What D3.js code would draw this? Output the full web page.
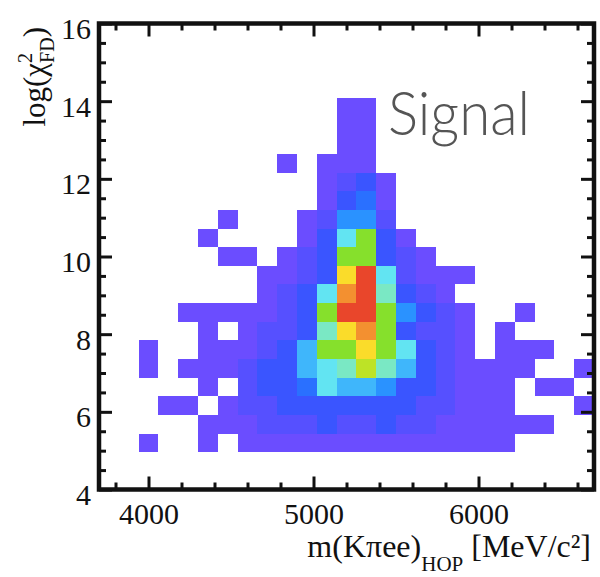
<!DOCTYPE html>
<html>
<head>
<meta charset="utf-8">
<script src="https://cdn.jsdelivr.net/npm/d3@7"></script>
<style>
  body { margin: 0; background: #fff; }
</style>
</head>
<body>
<div id="chart"></div>
<script>
// histogram binning
const xDomain = [3700, 6700];
const yDomain = [4, 16];
const nBinsX = 25;
const nBinsY = 25;

const xMajorTicks = [4000, 5000, 6000];
const yMajorTicks = [4, 6, 8, 10, 12, 14, 16];

// bin contents (colour level), one row per y bin, bottom row first, 25 x bins each
const binCounts = [
  [0,0,0,0,0,0,0,0,0,0,0,0,0,0,0,0,0,0,0,0,0,0,0,0,0],
  [0,0,0,0,0,0,0,0,0,0,0,0,0,0,0,0,0,0,0,0,0,0,0,0,0],
  [0,0,1,0,0,1,0,1,1,1,1,1,1,1,1,1,1,1,1,1,1,0,0,0,0],
  [0,0,0,0,0,1,1,1,2,2,2,3,2,2,3,2,2,1,1,1,1,1,1,0,0],
  [0,0,0,1,1,0,1,2,2,3,3,3,3,3,3,3,2,2,1,1,1,0,0,0,1],
  [0,0,0,0,0,1,0,2,3,3,4,7,6,6,5,3,3,2,1,1,1,0,1,1,0],
  [0,0,1,0,1,1,1,2,3,3,6,7,8,10,8,6,3,2,1,1,1,1,0,0,1],
  [0,0,1,0,0,1,1,1,2,3,6,9,9,11,9,7,3,2,1,0,1,1,1,0,0],
  [0,0,0,0,0,1,0,1,2,2,3,8,11,12,9,3,2,2,1,0,1,0,0,0,0],
  [0,0,0,0,1,1,1,1,1,2,3,9,13,13,9,5,3,2,1,0,0,1,0,0,0],
  [0,0,0,0,0,0,0,0,1,2,3,7,12,13,8,3,2,1,0,0,0,0,0,0,0],
  [0,0,0,0,0,0,0,0,1,1,2,3,11,13,7,2,1,1,1,0,0,0,0,0,0],
  [0,0,0,0,0,0,1,1,0,1,2,3,9,9,3,2,1,0,0,0,0,0,0,0,0],
  [0,0,0,0,0,1,0,0,0,0,1,3,7,9,3,1,0,0,0,0,0,0,0,0,0],
  [0,0,0,0,0,0,1,0,0,0,1,2,5,5,2,0,0,0,0,0,0,0,0,0,0],
  [0,0,0,0,0,0,0,0,0,0,0,1,3,4,1,0,0,0,0,0,0,0,0,0,0],
  [0,0,0,0,0,0,0,0,0,0,0,1,2,3,1,0,0,0,0,0,0,0,0,0,0],
  [0,0,0,0,0,0,0,0,0,1,0,1,1,1,0,0,0,0,0,0,0,0,0,0,0],
  [0,0,0,0,0,0,0,0,0,0,0,0,1,1,0,0,0,0,0,0,0,0,0,0,0],
  [0,0,0,0,0,0,0,0,0,0,0,0,1,1,0,0,0,0,0,0,0,0,0,0,0],
  [0,0,0,0,0,0,0,0,0,0,0,0,1,1,0,0,0,0,0,0,0,0,0,0,0],
  [0,0,0,0,0,0,0,0,0,0,0,0,0,0,0,0,0,0,0,0,0,0,0,0,0],
  [0,0,0,0,0,0,0,0,0,0,0,0,0,0,0,0,0,0,0,0,0,0,0,0,0],
  [0,0,0,0,0,0,0,0,0,0,0,0,0,0,0,0,0,0,0,0,0,0,0,0,0],
  [0,0,0,0,0,0,0,0,0,0,0,0,0,0,0,0,0,0,0,0,0,0,0,0,0]
];

// ROOT-like rainbow palette, violet -> red
const palette = ["#6b4dff", "#5650ff", "#3a55ff", "#2a70ff", "#2a92ff", "#3fb6fb",
  "#62e4f2", "#7ae8c4", "#86e02c", "#bde326", "#fadc2a", "#f39030", "#e9462b"];

const width = 600;
const height = 577;
const plotLeft = 99, plotRight = 594, plotTop = 23.5, plotBottom = 489.5;

const svg = d3.select("#chart")
  .append("svg")
  .attr("width", width)
  .attr("height", height);

const x = d3.scaleLinear().domain(xDomain).range([plotLeft, plotRight]);
const y = d3.scaleLinear().domain(yDomain).range([plotBottom, plotTop]);

const color = d3.scaleLinear()
  .domain(d3.range(1, palette.length + 1))
  .range(palette);

const binW = (xDomain[1] - xDomain[0]) / nBinsX;
const binH = (yDomain[1] - yDomain[0]) / nBinsY;

const cells = [];
binCounts.forEach((row, j) => {
  row.forEach((v, i) => {
    if (v > 0) cells.push({ i: i, j: j, v: v });
  });
});

svg.append("g")
  .selectAll("rect")
  .data(cells)
  .enter()
  .append("rect")
  .attr("x", d => x(xDomain[0] + d.i * binW))
  .attr("y", d => y(yDomain[0] + (d.j + 1) * binH))
  .attr("width", d => x(xDomain[0] + (d.i + 1) * binW) - x(xDomain[0] + d.i * binW))
  .attr("height", d => y(yDomain[0] + d.j * binH) - y(yDomain[0] + (d.j + 1) * binH))
  .attr("fill", d => color(d.v))
  .attr("shape-rendering", "crispEdges");

// axes, ticks pointing inward on all four sides
const xMinor = d3.range(3800, 6601, 200).filter(v => !xMajorTicks.includes(v));
const yMinor = d3.range(4, 16.01, 0.5).filter(v => !yMajorTicks.includes(v));

function styleAxis(g) {
  g.select(".domain").remove();
  g.selectAll(".tick line").attr("stroke", "#111").attr("stroke-width", 3);
  g.selectAll(".tick text")
    .attr("fill", "#111")
    .style("font-family", "'Liberation Serif', 'DejaVu Serif', serif")
    .style("font-size", "30px");
}

svg.append("g")
  .attr("transform", `translate(0,${plotBottom})`)
  .call(d3.axisBottom(x).tickValues(xMajorTicks).tickSize(-13).tickPadding(13).tickFormat(d3.format("d")))
  .call(styleAxis);
svg.append("g")
  .attr("transform", `translate(0,${plotBottom})`)
  .call(d3.axisBottom(x).tickValues(xMinor).tickSize(-7).tickFormat(""))
  .call(styleAxis);
svg.append("g")
  .attr("transform", `translate(0,${plotTop})`)
  .call(d3.axisTop(x).tickValues(xMajorTicks).tickSize(-13).tickFormat(""))
  .call(styleAxis);
svg.append("g")
  .attr("transform", `translate(0,${plotTop})`)
  .call(d3.axisTop(x).tickValues(xMinor).tickSize(-7).tickFormat(""))
  .call(styleAxis);

svg.append("g")
  .attr("transform", `translate(${plotLeft},0)`)
  .call(d3.axisLeft(y).tickValues(yMajorTicks).tickSize(-13).tickPadding(8).tickFormat(d3.format("d")))
  .call(styleAxis)
  .selectAll(".tick text").attr("dy", "0.5em");
svg.append("g")
  .attr("transform", `translate(${plotLeft},0)`)
  .call(d3.axisLeft(y).tickValues(yMinor).tickSize(-7).tickFormat(""))
  .call(styleAxis);
svg.append("g")
  .attr("transform", `translate(${plotRight},0)`)
  .call(d3.axisRight(y).tickValues(yMajorTicks).tickSize(-13).tickFormat(""))
  .call(styleAxis);
svg.append("g")
  .attr("transform", `translate(${plotRight},0)`)
  .call(d3.axisRight(y).tickValues(yMinor).tickSize(-7).tickFormat(""))
  .call(styleAxis);

// frame
svg.append("rect")
  .attr("x", plotLeft)
  .attr("y", plotTop)
  .attr("width", plotRight - plotLeft)
  .attr("height", plotBottom - plotTop)
  .attr("fill", "none")
  .attr("stroke", "#111")
  .attr("stroke-width", 4.5);

// axis titles
const xTitle = svg.append("text")
  .attr("x", 591)
  .attr("y", 557)
  .attr("text-anchor", "end")
  .attr("fill", "#111")
  .style("font-family", "'Liberation Serif', 'DejaVu Serif', serif")
  .style("font-size", "32px");
xTitle.append("tspan").text("m(K\u03c0ee)");
xTitle.append("tspan").attr("dy", 14).style("font-size", "21px").text("HOP");
xTitle.append("tspan").attr("dy", -14).text(" [MeV/c\u00b2]");

const yTitle = svg.append("text")
  .attr("transform", "translate(45,27) rotate(-90)")
  .attr("text-anchor", "end")
  .attr("fill", "#111")
  .style("font-family", "'Liberation Serif', 'DejaVu Serif', serif")
  .style("font-size", "31px");
yTitle.append("tspan").text("log(\u03c7");
yTitle.append("tspan").attr("dy", -13).style("font-size", "20px").text("2");
yTitle.append("tspan").attr("dy", 22).attr("dx", -10).style("font-size", "20px").text("FD");
yTitle.append("tspan").attr("dy", -9).text(")");

// label
svg.append("text")
  .attr("x", 388)
  .attr("y", 135)
  .attr("fill", "#555")
  .attr("textLength", 142)
  .attr("lengthAdjust", "spacingAndGlyphs")
  .style("font-family", "Lato, 'Open Sans', sans-serif")
  .style("font-weight", 300)
  .style("font-size", "62px")
  .text("Signal");
</script>
</body>
</html>
